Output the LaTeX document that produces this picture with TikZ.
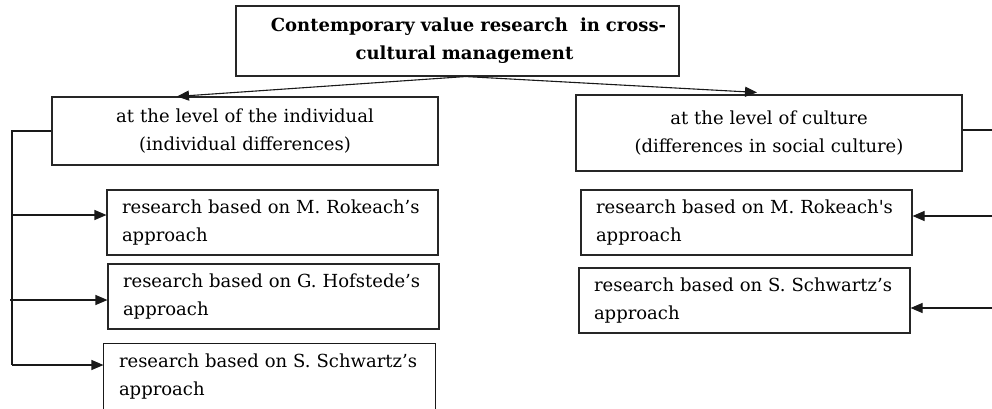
\documentclass[tikz,border=0pt]{standalone}
\usepackage{fontspec}
\setmainfont{DejaVu Serif}
\usetikzlibrary{arrows.meta}
\begin{document}
\begin{tikzpicture}[x=1pt,y=-1pt,
  txt/.style={font=\fontsize{18}{28}\selectfont},
  box/.style={draw=black!85, line width=1.1pt, txt, inner ysep=0pt},
  cbox/.style={box, align=center, inner xsep=0pt},
  leaf/.style={box, align=left, inner xsep=15pt, text width=301pt, minimum height=65pt},
  conn/.style={draw=black!90, line width=1.1pt},
  arr/.style={-{Triangle[length=12pt,width=10pt]}}]
\useasboundingbox (0,0) rectangle (992,409);
\node[cbox, text width=443pt, minimum height=70pt] (top) at (457.5,41)
  {\hspace*{22pt}\textbf{Contemporary value research\ \ in cross-}\\\hspace*{14pt}\textbf{cultural management}};
\node[cbox, text width=386pt, minimum height=68pt] (ind) at (245,131)
  {\raisebox{-3pt}{at the level of the individual}\\\raisebox{-3pt}{(individual differences)}};
\node[cbox, text width=386pt, minimum height=76pt] (cul) at (769,133)
  {at the level of culture\\(differences in social culture)};
\node[leaf] (L1) at (272.5,222.5) {research based on M. Rokeach’s\\approach};
\node[leaf] (L2) at (273.5,296.5) {research based on G. Hofstede’s\\approach};
\node[leaf, draw=none] (L3) at (269.5,376.5) {research based on S. Schwartz’s\\approach};
\draw[conn] (L3.south west) -- (L3.north west) -- (L3.north east) -- (L3.south east);
\node[leaf] (R1) at (746.5,222.5) {research based on M. Rokeach\textquotesingle s\\approach};
\node[leaf] (R2) at (744.5,300.5) {research based on S. Schwartz’s\\approach};
% top connectors
\coordinate (o) at ([xshift=8pt]top.south);
\draw[conn,arr] (o) -- ([xshift=-68pt]ind.north);
\draw[conn,arr] (o) -- ([xshift=-12pt,yshift=2pt]cul.north);
% left trunk
\coordinate (t0) at (12,131);
\coordinate (t3) at (12,365);
\coordinate (b1) at (12,215);
\coordinate (b2) at (10,300);
\draw[conn] (ind.west) -- (ind.west -| t0) -- (t3);
\draw[conn,arr] (b1) -- (b1 -| L1.west);
\draw[conn,arr] (b2) -- (b2 -| L2.west);
\draw[conn,arr] (t3) -- (t3 -| L3.west);
% right side
\coordinate (r0) at (992,130);
\coordinate (r1) at (992,216);
\coordinate (r2) at (992,308);
\draw[conn] ([yshift=3pt]cul.east) -- (r0);
\draw[conn,arr] (r1) -- (r1 -| R1.east);
\draw[conn,arr] (r2) -- (r2 -| R2.east);
\end{tikzpicture}
\end{document}
